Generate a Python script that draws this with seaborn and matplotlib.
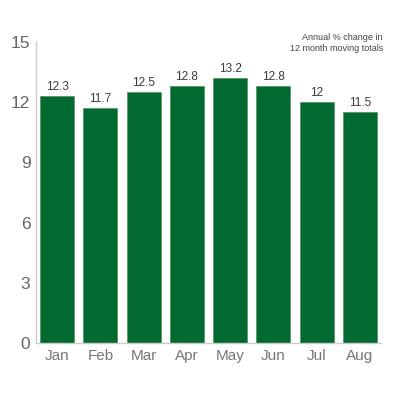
import numpy as np
import pandas as pd
import matplotlib
matplotlib.use("Agg")
import matplotlib.pyplot as plt
import seaborn as sns

months = ["Jan", "Feb", "Mar", "Apr", "May", "Jun", "Jul", "Aug"]
values = [12.3, 11.7, 12.5, 12.8, 13.2, 12.8, 12, 11.5]
value_labels = ["12.3", "11.7", "12.5", "12.8", "13.2", "12.8", "12", "11.5"]
y_ticks = [0, 3, 6, 9, 12, 15]

df = pd.DataFrame({"month": months, "value": values})

sns.set_style("white")
plt.rcParams["font.family"] = ["Liberation Sans", "DejaVu Sans"]

fig = plt.figure(figsize=(4, 4), dpi=100)
ax = fig.add_axes([0.09, 0.1425, 0.8625, 0.7525])

sns.barplot(
    data=df,
    x="month",
    y="value",
    color="#006a31",
    saturation=1,
    width=0.79,
    edgecolor="#5e9468",
    linewidth=0.6,
    ax=ax,
)

# étiquettes au-dessus des barres
for i, (v, lab) in enumerate(zip(values, value_labels)):
    ax.text(
        i, v + 0.15, lab,
        ha="center", va="bottom",
        fontsize=8.5, color="#3a3a3a",
    )

fig.text(
    0.9575, 0.9175, "Annual % change in\n12 month moving totals",
    ha="right", va="top",
    fontsize=6.5, color="#444444", linespacing=1.25,
)

ax.set_xlim(-0.49, 7.49)
ax.set_ylim(0, 15)
ax.set_yticks(y_ticks)
ax.set_xlabel("")
ax.set_ylabel("")

ax.set_xticks(np.arange(len(months)))
ax.set_xticklabels(months)
ax.set_xticks(np.arange(len(months) - 1) + 0.5, minor=True)

for side in ["top", "right"]:
    ax.spines[side].set_visible(False)
for side in ["left", "bottom"]:
    ax.spines[side].set_color("#cccccc")
    ax.spines[side].set_linewidth(1)

ax.tick_params(axis="y", direction="in", length=5, width=1, color="#cccccc",
               labelsize=12.5, labelcolor="#666666", pad=4)
ax.tick_params(axis="x", which="major", length=0, labelsize=11,
               labelcolor="#777777", pad=4)
ax.tick_params(axis="x", which="minor", direction="in", length=5, width=1,
               color="#cccccc")

fig.savefig("out.png", dpi=100)
